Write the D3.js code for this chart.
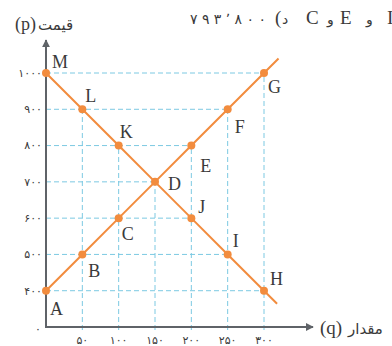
<!DOCTYPE html>
<html>
<head>
<meta charset="utf-8">
<script src="https://cdn.jsdelivr.net/npm/d3@7"></script>
<style>
  body { margin: 0; background: #fff; }
  svg { display: block; }
</style>
</head>
<body>
<div></div>
<script>
const WIDTH = 392;
const HEIGHT = 346;
// data
const supplyQ = [0, 50, 100, 150, 200, 250, 300];
const supplyP = [400, 500, 600, 700, 800, 900, 1000];
const supplyNames = ['A', 'B', 'C', 'D', 'E', 'F', 'G'];
const demandQ = [0, 50, 100, 150, 200, 250, 300];
const demandP = [1000, 900, 800, 700, 600, 500, 400];
const demandNames = ['M', 'L', 'K', 'D', 'J', 'I', 'H'];
// where the drawn lines run past the last point
const supplyEnd = [320, 1040];
const demandEnd = [318, 364];
const xTicks = [50, 100, 150, 200, 250, 300];
const xTickLabels = ['۵۰', '۱۰۰', '۱۵۰', '۲۰۰', '۲۵۰', '۳۰۰'];
const yTicks = [400, 500, 600, 700, 800, 900, 1000];
const yTickLabels = ['۴۰۰', '۵۰۰', '۶۰۰', '۷۰۰', '۸۰۰', '۹۰۰', '۱۰۰۰'];
// cut-off line from the page above, piece by piece (left to right)
const headerPieces = [
  { t: '۷۹۳٬۸۰۰', x: 190, fa: true, w: 76 },
  { t: '(', x: 275, fa: false },
  { t: 'د', x: 282, fa: true },
  { t: 'C', x: 306, fa: false },
  { t: 'و', x: 327, fa: true },
  { t: 'E', x: 340, fa: false },
  { t: 'و', x: 366, fa: true },
  { t: 'I', x: 387, fa: false }
];

// label offsets (dx, baseline dy) from each point
const labelOffset = {
  M: [6, -5], L: [3, -7], K: [1, -8], D: [13, 8], J: [7, -5], I: [5, -7], H: [6, -6],
  A: [4, 24], B: [6, 23], C: [3, 22], E: [9, 26], F: [7, 24], G: [4, 20]
};

const ORANGE = '#f28c3e';
const GRID = '#7cc9e2';
const AXIS = '#5f6368';
const TEXT = '#3a3a3a';
const FA_FONT = '"DejaVu Sans", sans-serif';
const LETTER_FONT = '"Liberation Serif", "DejaVu Serif", serif';

const x = d3.scaleLinear().domain([0, 300]).range([46, 264]);
const y = d3.scaleLinear().domain([300, 1000]).range([327, 73]);

const svg = d3.select('div').append('svg')
    .attr('width', WIDTH)
    .attr('height', HEIGHT);

const defs = svg.append('defs');
defs.append('marker')
    .attr('id', 'arrow')
    .attr('viewBox', '0 0 10 10')
    .attr('refX', 9).attr('refY', 5)
    .attr('markerWidth', 4).attr('markerHeight', 4)
    .attr('orient', 'auto')
  .append('path')
    .attr('d', 'M0,0 L10,5 L0,10 z')
    .attr('fill', AXIS);

// points
const supply = supplyQ.map((q, i) => ({ q: q, p: supplyP[i], name: supplyNames[i] }));
const demand = demandQ.map((q, i) => ({ q: q, p: demandP[i], name: demandNames[i] }));
const allPts = supply.concat(demand.filter(d => d.name !== 'D'));

// dashed guide lines: each level runs to the farthest point on it
const hLevels = d3.rollups(allPts, v => d3.max(v, d => d.q), d => d.p);
const vLevels = d3.rollups(allPts.filter(d => d.q > 0), v => d3.max(v, d => d.p), d => d.q);
const grid = svg.append('g')
    .attr('stroke', GRID)
    .attr('stroke-width', 1)
    .attr('stroke-dasharray', '5,3');
grid.selectAll('line.h').data(hLevels).join('line')
    .attr('class', 'h')
    .attr('x1', x(0)).attr('x2', d => x(d[1]))
    .attr('y1', d => y(d[0])).attr('y2', d => y(d[0]));
grid.selectAll('line.v').data(vLevels).join('line')
    .attr('class', 'v')
    .attr('x1', d => x(d[0])).attr('x2', d => x(d[0]))
    .attr('y1', y(300) + 3).attr('y2', d => y(d[1]));

// axes
svg.append('line')
    .attr('x1', x(0)).attr('y1', y(300))
    .attr('x2', x(0)).attr('y2', 40)
    .attr('stroke', AXIS).attr('stroke-width', 2)
    .attr('marker-end', 'url(#arrow)');
svg.append('line')
    .attr('x1', x(0) - 1).attr('y1', y(300))
    .attr('x2', 313).attr('y2', y(300))
    .attr('stroke', AXIS).attr('stroke-width', 2)
    .attr('marker-end', 'url(#arrow)');

// tick labels
svg.append('g').selectAll('text').data(yTicks).join('text')
    .attr('x', 42)
    .attr('y', d => y(d))
    .attr('dy', '0.35em')
    .attr('text-anchor', 'end')
    .attr('font-family', FA_FONT)
    .attr('font-size', 11)
    .attr('letter-spacing', 2)
    .attr('fill', TEXT)
    .text((d, i) => yTickLabels[i]);
svg.append('g').selectAll('text').data(xTicks).join('text')
    .attr('x', d => x(d))
    .attr('y', 344)
    .attr('text-anchor', 'middle')
    .attr('font-family', FA_FONT)
    .attr('font-size', 11)
    .attr('letter-spacing', 2)
    .attr('fill', TEXT)
    .text((d, i) => xTickLabels[i]);
svg.append('text')
    .attr('x', 38).attr('y', 333)
    .attr('text-anchor', 'middle')
    .attr('font-family', FA_FONT)
    .attr('font-size', 11)
    .attr('fill', TEXT)
    .text('۰');

// axis titles, each part drawn on its own so the order stays as in the picture
svg.append('text')
    .attr('x', 15).attr('y', 30)
    .attr('font-family', LETTER_FONT)
    .attr('font-size', 18)
    .attr('fill', TEXT)
    .text('(p)');
svg.append('text')
    .attr('x', 38).attr('y', 30)
    .attr('font-family', FA_FONT)
    .attr('font-size', 15)
    .attr('fill', TEXT)
    .text('قیمت');
svg.append('text')
    .attr('x', 320).attr('y', 334)
    .attr('font-family', LETTER_FONT)
    .attr('font-size', 19)
    .attr('fill', TEXT)
    .text('(q)');
svg.append('text')
    .attr('x', 348).attr('y', 334)
    .attr('font-family', FA_FONT)
    .attr('font-size', 15)
    .attr('fill', TEXT)
    .text('مقدار');

// header
svg.append('g').selectAll('text').data(headerPieces).join('text')
    .attr('x', d => d.x)
    .attr('y', 24)
    .attr('font-family', d => d.fa ? FA_FONT : LETTER_FONT)
    .attr('font-size', d => d.fa ? 14 : 19)
    .attr('fill', TEXT)
    .each(function (d) {
      if (d.w) d3.select(this).attr('textLength', d.w).attr('lengthAdjust', 'spacing');
    })
    .text(d => d.t);

// lines
const line = d3.line().x(d => x(d[0])).y(d => y(d[1]));
svg.append('path')
    .datum(supply.map(d => [d.q, d.p]).concat([supplyEnd]))
    .attr('d', line)
    .attr('fill', 'none')
    .attr('stroke', ORANGE)
    .attr('stroke-width', 2);
svg.append('path')
    .datum(demand.map(d => [d.q, d.p]).concat([demandEnd]))
    .attr('d', line)
    .attr('fill', 'none')
    .attr('stroke', ORANGE)
    .attr('stroke-width', 2);

// points
svg.append('g').selectAll('circle').data(allPts).join('circle')
    .attr('cx', d => x(d.q))
    .attr('cy', d => y(d.p))
    .attr('r', 4)
    .attr('fill', ORANGE);

// point names
svg.append('g').selectAll('text').data(allPts).join('text')
    .attr('x', d => x(d.q) + labelOffset[d.name][0])
    .attr('y', d => y(d.p) + labelOffset[d.name][1])
    .attr('font-family', LETTER_FONT)
    .attr('font-size', 18)
    .attr('fill', TEXT)
    .text(d => d.name);
</script>
</body>
</html>
